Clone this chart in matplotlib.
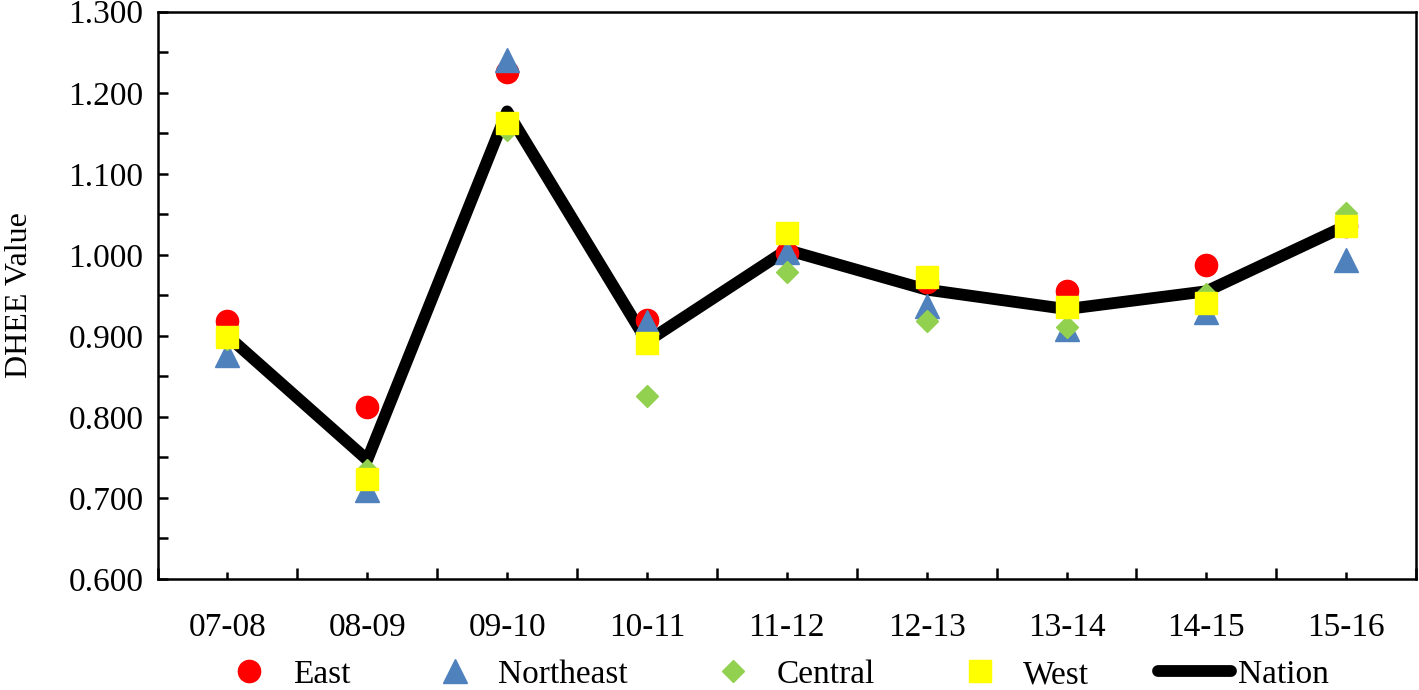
import numpy as np
import matplotlib.pyplot as plt
from matplotlib.ticker import MultipleLocator, FormatStrFormatter

plt.rcParams['font.family'] = ['Liberation Serif', 'DejaVu Serif']

periods = ['07-08', '08-09', '09-10', '10-11', '11-12', '12-13', '13-14', '14-15', '15-16']
east      = [0.918, 0.812, 1.226, 0.920, 1.002, 0.966, 0.955, 0.988, 1.035]
northeast = [0.876, 0.710, 1.240, 0.917, 1.003, 0.937, 0.909, 0.930, 0.994]
central   = [0.896, 0.735, 1.154, 0.826, 0.979, 0.918, 0.911, 0.952, 1.052]
west      = [0.899, 0.723, 1.163, 0.891, 1.027, 0.973, 0.935, 0.941, 1.036]
nation    = [0.900, 0.747, 1.177, 0.893, 1.006, 0.957, 0.933, 0.955, 1.036]

x = np.arange(len(periods))

fig = plt.figure(figsize=(14.19, 6.9), dpi=100)
ax = fig.add_axes([0.111, 0.161, 0.887, 0.822])

ax.plot(x, nation, color='black', linewidth=8.5, solid_capstyle='round', zorder=2)
ax.plot(x, east, 'o', color='#ff0000', markersize=16, zorder=3)
ax.plot(x, northeast, '^', color='#4f81bd', markersize=17, zorder=4)
ax.plot(x, central, 'D', color='#92d050', markersize=11.5, zorder=5)
ax.plot(x, west, 's', color='#ffff00', markersize=16, zorder=6)

ax.set_xlim(-0.5, len(periods) - 0.5)
ax.set_ylim(0.6, 1.3)
ax.yaxis.set_major_locator(MultipleLocator(0.1))
ax.yaxis.set_minor_locator(MultipleLocator(0.05))
ax.yaxis.set_major_formatter(FormatStrFormatter('%.3f'))
ax.set_xticks(x)
ax.set_xticklabels(periods)
ax.set_xticks(np.arange(-0.5, len(periods)), minor=True)

ax.tick_params(axis='both', which='both', direction='in', width=1.8, labelsize=24)
ax.tick_params(axis='y', which='both', length=7, pad=10)
ax.tick_params(axis='x', which='major', length=5, pad=24)
ax.tick_params(axis='x', which='minor', length=8)
for s in ax.spines.values():
    s.set_linewidth(1.8)

ax.set_ylabel('DHEE Value', fontsize=23, labelpad=25)

handles = [
    plt.Line2D([], [], linestyle='none', marker='o', color='#ff0000', markersize=16),
    plt.Line2D([], [], linestyle='none', marker='^', color='#4f81bd', markersize=17),
    plt.Line2D([], [], linestyle='none', marker='D', color='#92d050', markersize=11.5),
    plt.Line2D([], [], linestyle='none', marker='s', color='#ffff00', markersize=16),
    plt.Line2D([], [], color='black', linewidth=8.5, solid_capstyle='round'),
]
fig.legend(handles, ['East', 'Northeast', 'Central', 'West', 'Nation'],
           loc='center', bbox_to_anchor=(0.543, 0.022), ncol=5, frameon=False,
           fontsize=24, handlelength=2.2, handletextpad=0.2, columnspacing=2.05,
           borderpad=0)

fig.savefig('out.png', dpi=100)
